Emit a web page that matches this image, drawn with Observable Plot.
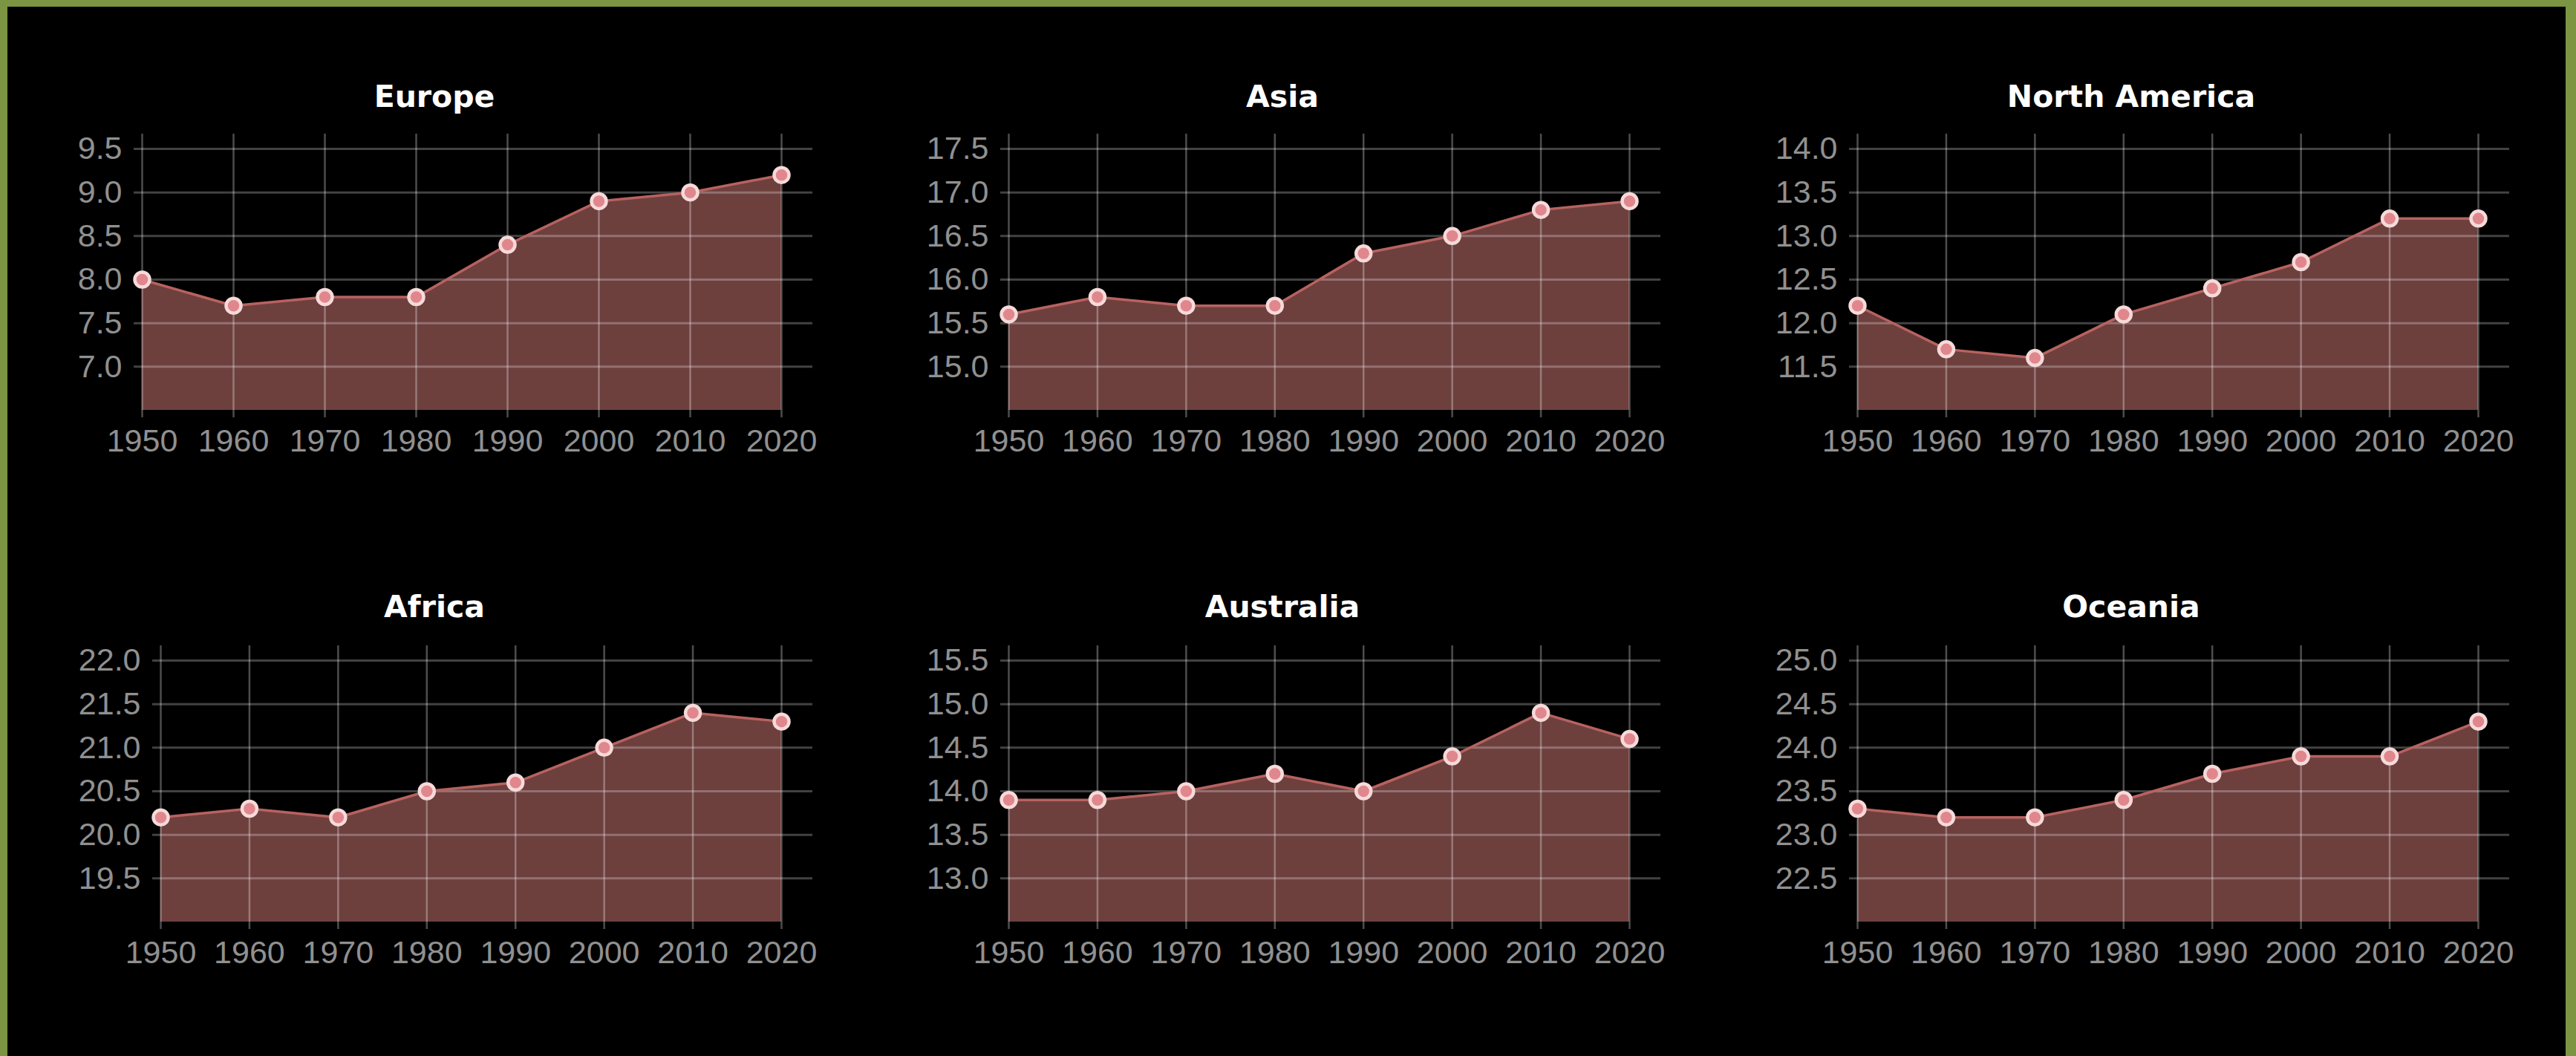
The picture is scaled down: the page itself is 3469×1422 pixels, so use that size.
<!DOCTYPE html>
<html>
<head>
<meta charset="utf-8">
<script src="https://cdn.jsdelivr.net/npm/d3@7"></script>
<script src="https://cdn.jsdelivr.net/npm/@observablehq/plot@0.6"></script>
<style>
html, body { margin: 0; padding: 0; width: 3469px; height: 1422px; overflow: hidden; background: #7b9542; }
#canvas { position: absolute; left: 10px; top: 9px; width: 3445px; height: 1413px; background: #000; }
#root { position: absolute; left: 0; top: 0; width: 3469px; height: 1422px; }
.panel { position: absolute; }
.title { position: absolute; font-family: "DejaVu Sans", sans-serif; font-weight: bold; font-size: 41px; color: #fff;
  white-space: nowrap; transform: translate(-50%, -50%); line-height: 1; }
</style>
</head>
<body>
<div id="canvas"></div>
<div id="root"></div>
<script>
// ---- data ----
const years = [1950, 1960, 1970, 1980, 1990, 2000, 2010, 2020];
const regions = ["Europe", "Asia", "North America", "Africa", "Australia", "Oceania"];

const europe       = [8.0, 7.7, 7.8, 7.8, 8.4, 8.9, 9.0, 9.2];
const asia         = [15.6, 15.8, 15.7, 15.7, 16.3, 16.5, 16.8, 16.9];
const northAmerica = [12.2, 11.7, 11.6, 12.1, 12.4, 12.7, 13.2, 13.2];
const africa       = [20.2, 20.3, 20.2, 20.5, 20.6, 21.0, 21.4, 21.3];
const australia    = [13.9, 13.9, 14.0, 14.2, 14.0, 14.4, 14.9, 14.6];
const oceania      = [23.3, 23.2, 23.2, 23.4, 23.7, 23.9, 23.9, 24.3];

const europeTicks       = [7.0, 7.5, 8.0, 8.5, 9.0, 9.5];
const asiaTicks         = [15.0, 15.5, 16.0, 16.5, 17.0, 17.5];
const northAmericaTicks = [11.5, 12.0, 12.5, 13.0, 13.5, 14.0];
const africaTicks       = [19.5, 20.0, 20.5, 21.0, 21.5, 22.0];
const australiaTicks    = [13.0, 13.5, 14.0, 14.5, 15.0, 15.5];
const oceaniaTicks      = [22.5, 23.0, 23.5, 24.0, 24.5, 25.0];

const europeDomain       = [6.5, 9.5];
const asiaDomain         = [14.5, 17.5];
const northAmericaDomain = [11.0, 14.0];
const africaDomain       = [19.0, 22.0];
const australiaDomain    = [12.5, 15.5];
const oceaniaDomain      = [22.0, 25.0];

const seriesValues = [europe, asia, northAmerica, africa, australia, oceania];
const seriesTicks = [europeTicks, asiaTicks, northAmericaTicks, africaTicks, australiaTicks, oceaniaTicks];
const seriesDomains = [europeDomain, asiaDomain, northAmericaDomain, africaDomain, australiaDomain, oceaniaDomain];

// ---- layout ----
const panelLefts = [14, 1156, 2299];
const svgTops = [150, 839];
const titleYs = [130, 817];
const panelW = 1142, panelH = 482;
const fmt = d3.format(".1f");
const root = document.getElementById("root");

regions.forEach((name, i) => {
  const col = i % 3, row = Math.floor(i / 3);
  const data = years.map((y, k) => ({year: y, value: seriesValues[i][k]}));
  const ticks = seriesTicks[i];
  const domain = seriesDomains[i];
  const maxLen = d3.max(ticks, t => fmt(t).length);
  const marginLeft = maxLen >= 4 ? 191 : 166;

  const chart = Plot.plot({
    width: panelW,
    height: panelH,
    marginTop: 30,
    marginBottom: 70,
    marginLeft,
    marginRight: 62,
    insetTop: 20,
    insetBottom: 10,
    insetLeft: 11,
    insetRight: 42,
    style: {background: "transparent", fontFamily: "'Liberation Sans', Arial, sans-serif", overflow: "visible"},
    x: {domain: [years[0], years[years.length - 1]], axis: null},
    y: {domain, axis: null},
    marks: [
      Plot.areaY(data, {x: "year", y1: domain[0], y2: "value", fill: "#6d403e", curve: "linear"}),
      Plot.ruleY(ticks, {y: d => d, stroke: "#ffffff", strokeOpacity: 0.26, strokeWidth: 3}),
      Plot.ruleX(years, {x: d => d, stroke: "#ffffff", strokeOpacity: 0.3, strokeWidth: 2.5}),
      Plot.lineY(data, {x: "year", y: "value", stroke: "#b8625f", strokeWidth: 3.5}),
      Plot.dot(data, {x: "year", y: "value", r: 10, fill: "#e0878d", stroke: "#f6dada", strokeWidth: 4.5}),
      Plot.text(ticks, {y: d => d, frameAnchor: "left", textAnchor: "end", dx: -16, text: d => fmt(d),
        fontSize: 43, fill: "#909090"}),
      Plot.text(years, {x: d => d, frameAnchor: "bottom", lineAnchor: "top", dy: 15, text: d => String(d),
        fontSize: 43, fill: "#909090"})
    ]
  });

  const panel = document.createElement("div");
  panel.className = "panel";
  panel.style.left = panelLefts[col] + "px";
  panel.style.top = svgTops[row] + "px";
  panel.appendChild(chart);
  root.appendChild(panel);

  const title = document.createElement("div");
  title.className = "title";
  title.textContent = name;
  title.style.left = (panelLefts[col] + panelW / 2) + "px";
  title.style.top = titleYs[row] + "px";
  root.appendChild(title);
});
</script>
</body>
</html>
